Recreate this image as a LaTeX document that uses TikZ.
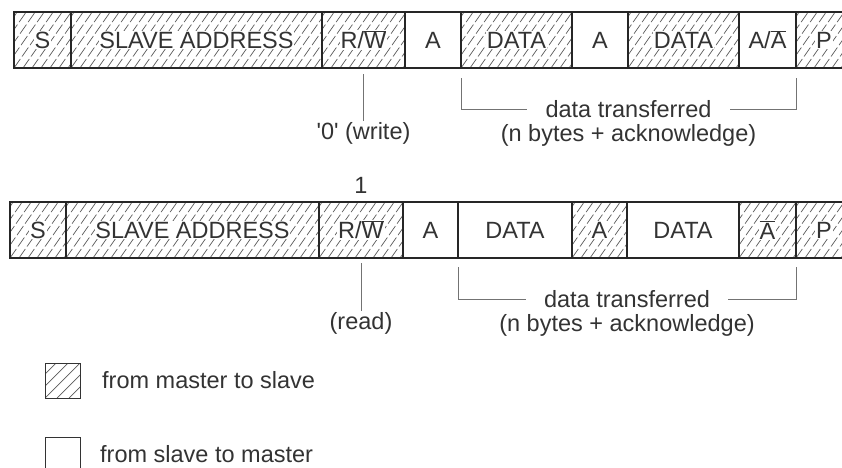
\documentclass[tikz,border=0pt]{standalone}
\usepackage{fontspec}
\setmainfont{Liberation Sans}
\usetikzlibrary{positioning,calc}

\tikzset{
  field/.style={draw=black!85, line width=1.3pt, minimum height=56pt, inner sep=0pt, outer sep=0pt, text=black!80},
  hatchline/.style={black!65, line width=0.7pt, dash pattern=on 11pt off 3pt},
  m2s/.style={field, path picture={
      \foreach \i in {-45,-36,...,260}
        \draw[hatchline] ([xshift=\i pt]path picture bounding box.south west) -- ++(55:75pt);}},
  keybox/.style={draw=black!80, line width=0.9pt, minimum size=35pt, inner sep=0pt, outer sep=0pt},
  keyhatch/.style={keybox, path picture={
      \foreach \i in {-36,-24,...,36}
        \draw[black!65, line width=0.7pt] ([xshift=\i pt]path picture bounding box.south west) -- ++(45:60pt);}},
  lbl/.style={fill=white, inner sep=0.8pt, text=black!80},
  txt/.style={inner sep=1pt, text=black!80},
  conn/.style={black!55, line width=0.9pt},
}

\begin{document}
\begin{tikzpicture}[x=1pt, y=1pt, font=\fontsize{23.5}{27}\selectfont]
  \useasboundingbox (0,0) rectangle (842,467);

  % write transfer
  \node[m2s, minimum width=57pt, label={[lbl]center:S}] (s1) at (42.5,427) {};
  \node[m2s, minimum width=251pt, right=0pt of s1, label={[lbl]center:SLAVE ADDRESS}] (sa1) {};
  \node[m2s, minimum width=83pt, right=0pt of sa1, label={[lbl]center:R/$\overline{\mbox{W}}$}] (rw1) {};
  \node[field, minimum width=56pt, right=0pt of rw1] (a1) {A};
  \node[m2s, minimum width=111pt, right=0pt of a1, label={[lbl]center:DATA}] (d1) {};
  \node[field, minimum width=56pt, right=0pt of d1] (a2) {A};
  \node[m2s, minimum width=111pt, right=0pt of a2, label={[lbl]center:DATA}] (d2) {};
  \node[field, minimum width=57pt, right=0pt of d2] (aa1) {A/$\overline{\mbox{A}}$};
  \node[m2s, minimum width=56pt, right=0pt of aa1, label={[lbl]center:P}] (p1) {};

  \node[txt, below=53pt of rw1] (wr) {\textquotesingle0\textquotesingle{} (write)};
  \draw[conn] ([yshift=-6pt]rw1.south) -- (wr);

  \node[txt, inner xsep=18pt] (dt1) at ($(d1.south west)!0.5!(aa1.south east)+(0,-41)$) {data transferred};
  \node[txt, below=4pt of dt1] (nb1) {(n bytes + acknowledge)};
  \draw[conn] ([yshift=-10pt]d1.south west) |- (dt1.west);
  \draw[conn] ([yshift=-10pt]aa1.south east) |- (dt1.east);

  % read transfer
  \node[m2s, minimum width=56pt, label={[lbl]center:S}] (s2) at (38,237) {};
  \node[m2s, minimum width=253pt, right=0pt of s2, label={[lbl]center:SLAVE ADDRESS}] (sa2) {};
  \node[m2s, minimum width=84pt, right=0pt of sa2, label={[lbl]center:R/$\overline{\mbox{W}}$}] (rw2) {};
  \node[field, minimum width=55pt, right=0pt of rw2] (a3) {A};
  \node[field, minimum width=114pt, right=0pt of a3] (d3) {DATA};
  \node[m2s, minimum width=55pt, right=0pt of d3, label={[lbl]center:A}] (a4) {};
  \node[field, minimum width=112pt, right=0pt of a4] (d4) {DATA};
  \node[m2s, minimum width=57pt, right=0pt of d4, label={[lbl]center:$\overline{\mbox{A}}$}] (na2) {};
  \node[m2s, minimum width=56pt, right=0pt of na2, label={[lbl]center:P}] (p2) {};

  \node[txt, above=7pt of rw2] (one) {1};
  \node[txt, below=53pt of rw2] (rd) {(read)};
  \draw[conn] ([yshift=-5pt]rw2.south) -- (rd);

  \node[txt, inner xsep=18pt] (dt2) at ($(d3.south west)!0.5!(na2.south east)+(0,-41)$) {data transferred};
  \node[txt, below=4pt of dt2] (nb2) {(n bytes + acknowledge)};
  \draw[conn] ([yshift=-9pt]d3.south west) |- (dt2.west);
  \draw[conn] ([yshift=-9pt]na2.south east) |- (dt2.east);

  % key
  \node[keyhatch] (km) at (62.5,86.5) {};
  \node[txt, right=21pt of km] (kmt) {from master to slave};
  \node[keybox] (ks) at (62.5,12.5) {};
  \node[txt, right=19pt of ks] (kst) {from slave to master};
\end{tikzpicture}
\end{document}
